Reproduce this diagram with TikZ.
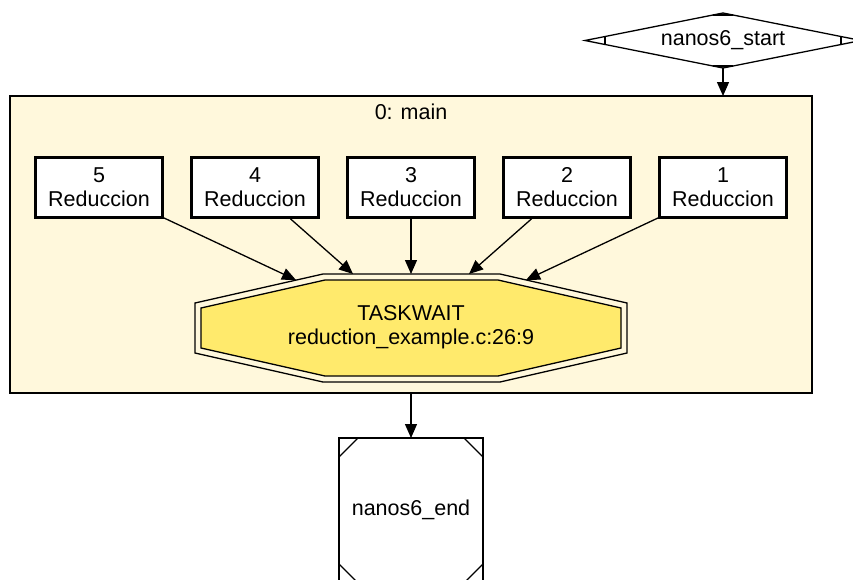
\documentclass[tikz,border=0pt]{standalone}
\usepackage{fontspec}
\setmainfont{Liberation Sans}
\usetikzlibrary{arrows.meta}
\definecolor{clusterfill}{HTML}{FFF8DC}
\definecolor{waitfill}{HTML}{FFEA6C}
\tikzset{
  lbl/.style={font=\fontsize{21.5}{24}\selectfont, align=center, inner sep=0pt},
  taskbox/.style={draw, line width=2.6pt, fill=white, minimum width=127pt, minimum height=60pt,
                  font=\fontsize{21.5}{24}\selectfont, align=center, inner sep=0pt},
  edge/.style={line width=1.3pt, -{Triangle[length=14pt, width=12pt]}},
  outline/.style={line width=1.3pt}
}
\begin{document}
\begin{tikzpicture}[x=1pt, y=-1pt]
\useasboundingbox (0,0) rectangle (853,579);
\clip (0,0) rectangle (853,579);
\fill[white] (0,0) rectangle (853,579);

% start node (Mdiamond)
\draw[outline, fill=white] (585,40.5) -- (723,13) -- (861,40.5) -- (723,68) -- cycle;
\draw[outline] (713,15) -- (733,15) (713,66) -- (733,66)
               (605,36.5) -- (605,44.5) (841,36.5) -- (841,44.5);
\node[lbl] (start) at (723,40.5) {nanos6\_start};
\coordinate (startbot) at (723,68);

% cluster "0: main"
\draw[outline, fill=clusterfill] (10,96) rectangle (812,393);
\node[lbl] (clabel) at (411,112) {0: main};
\coordinate (ctop) at (723,96);
\coordinate (cbot) at (411,393);

% reduction tasks
\node[taskbox] (r5) at (99,187.5)  {5\\Reduccion};
\node[taskbox] (r4) at (255,187.5) {4\\Reduccion};
\node[taskbox] (r3) at (411,187.5) {3\\Reduccion};
\node[taskbox] (r2) at (567,187.5) {2\\Reduccion};
\node[taskbox] (r1) at (723,187.5) {1\\Reduccion};

% taskwait (double octagon)
\draw[outline] (323,274) -- (500,274) -- (627,303) -- (627,353) -- (500,382)
               -- (323,382) -- (195,353) -- (195,303) -- cycle;
\draw[outline, fill=waitfill] (325,280) -- (498,280) -- (621,308) -- (621,348) -- (498,376)
               -- (325,376) -- (201,348) -- (201,308) -- cycle;
\node[lbl] (tw) at (411,327) {TASKWAIT\\reduction\_example.c:26:9};
\coordinate (tw5) at (296,280);
\coordinate (tw4) at (353,274);
\coordinate (tw3) at (411,274);
\coordinate (tw2) at (469,274);
\coordinate (tw1) at (526,280);

% end node (Msquare)
\draw[outline, fill=white] (339,438) rectangle (483,583);
\draw[outline] (339,457) -- (358,438) (464,438) -- (483,457)
               (339,564) -- (358,583) (464,583) -- (483,564);
\node[lbl] (end) at (411,510) {nanos6\_end};
\coordinate (endtop) at (411,438);

% connectors
\draw[edge] (startbot) -- (ctop);
\draw[edge] (r5) -- (tw5);
\draw[edge] (r4) -- (tw4);
\draw[edge] (r3) -- (tw3);
\draw[edge] (r2) -- (tw2);
\draw[edge] (r1) -- (tw1);
\draw[edge] (cbot) -- (endtop);
\end{tikzpicture}
\end{document}
